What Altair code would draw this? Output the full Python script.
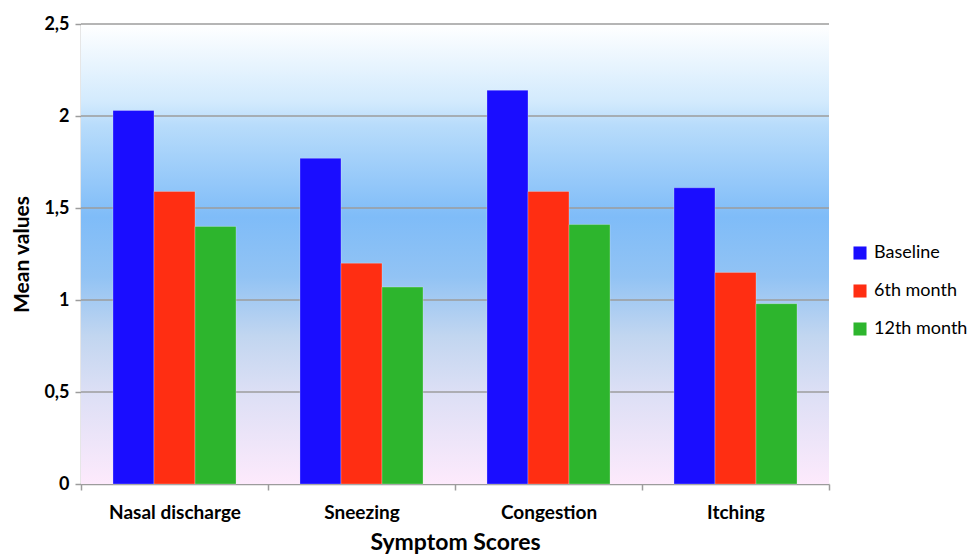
import altair as alt
import pandas as pd

# Symptom score means at each visit
categories = ["Nasal discharge", "Sneezing", "Congestion", "Itching"]
series = ["Baseline", "6th month", "12th month"]
baseline = [2.03, 1.77, 2.14, 1.61]
month6 = [1.59, 1.20, 1.59, 1.15]
month12 = [1.40, 1.07, 1.41, 0.98]
y_ticks = [0, 0.5, 1, 1.5, 2, 2.5]
colors = ["#1a0dff", "#ff2e12", "#2db52d"]

rows = []
for s, vals in zip(series, [baseline, month6, month12]):
    for c, v in zip(categories, vals):
        rows.append({"category": c, "series": s, "value": v})
df = pd.DataFrame(rows)

FONT = "Lato"
AXIS_GRAY = "#9c9c9c"
y_scale = alt.Scale(domain=[0, 2.5], nice=False)

y_axis = alt.Axis(
    title="Mean values",
    values=y_ticks,
    grid=False,
    labelExpr="replace(toString(datum.value), '.', ',')",
    labelFont=FONT,
    labelFontSize=18,
    labelFontWeight="bold",
    labelColor="#000000",
    labelPadding=6,
    titleFont=FONT,
    titleFontSize=21,
    titleFontWeight="bold",
    titleColor="#000000",
    titlePadding=11,
    tickSize=6,
    tickColor=AXIS_GRAY,
    tickWidth=1.5,
    domainColor=AXIS_GRAY,
    domainWidth=1.5,
)

# Plot-area backdrop: white at the top, sky blue in the middle, pale pink at the bottom
gradient = alt.Gradient(
    gradient="linear", x1=0, x2=0, y1=0, y2=1,
    stops=[
        alt.GradientStop(color="#ffffff", offset=0.0),
        alt.GradientStop(color="#d2eafd", offset=0.17),
        alt.GradientStop(color="#b8dcfb", offset=0.22),
        alt.GradientStop(color="#7fbcf8", offset=0.42),
        alt.GradientStop(color="#92c3f4", offset=0.55),
        alt.GradientStop(color="#c2d6f0", offset=0.68),
        alt.GradientStop(color="#dcdff5", offset=0.8),
        alt.GradientStop(color="#fdeafc", offset=1.0),
    ],
)

background = alt.Chart(pd.DataFrame({"k": [0]})).mark_rect(fill=gradient).encode(
    x=alt.value(0), x2=alt.value("width"), y=alt.value(0), y2=alt.value("height")
)

grid = alt.Chart(pd.DataFrame({"tick": y_ticks[1:]})).mark_rule(
    color=AXIS_GRAY, strokeWidth=1.5
).encode(y=alt.Y("tick:Q", scale=y_scale, axis=y_axis))

bars = alt.Chart(df).mark_bar(stroke="#ffffff", strokeOpacity=0.25, strokeWidth=1).encode(
    x=alt.X(
        "category:N",
        sort=categories,
        scale=alt.Scale(paddingInner=0, paddingOuter=0),
        axis=alt.Axis(
            title="Symptom Scores",
            labelAngle=0,
            labelFont=FONT,
            labelFontSize=19,
            labelFontWeight="bold",
            labelColor="#000000",
            labelPadding=13,
            titleFont=FONT,
            titleFontSize=23,
            titleFontWeight="bold",
            titleColor="#000000",
            titlePadding=9,
            tickBand="extent",
            tickSize=6,
            tickColor=AXIS_GRAY,
            tickWidth=1.5,
            domainColor=AXIS_GRAY,
            domainWidth=1.5,
        ),
    ),
    xOffset=alt.XOffset(
        "series:N", sort=series, scale=alt.Scale(paddingInner=0, paddingOuter=0.78)
    ),
    y=alt.Y("value:Q", scale=y_scale, axis=y_axis),
    color=alt.Color(
        "series:N",
        sort=series,
        scale=alt.Scale(domain=series, range=colors),
        legend=alt.Legend(
            title=None,
            orient="none",
            legendX=770,
            legendY=220,
            symbolType="square",
            symbolSize=170,
            symbolStrokeWidth=0,
            labelFont=FONT,
            labelFontSize=18,
            labelColor="#000000",
            labelOffset=5,
            rowPadding=20,
        ),
    ),
)

chart = (
    alt.layer(background, grid, bars)
    .properties(
        width=748,
        height=460,
        autosize=alt.AutoSizeParams(type="none"),
        padding={"left": 81, "top": 24, "right": 143, "bottom": 70},
        background="#ffffff",
    )
    .configure_view(stroke=None)
)

chart.save("out.html", embed_options={"renderer": "svg", "actions": False})
